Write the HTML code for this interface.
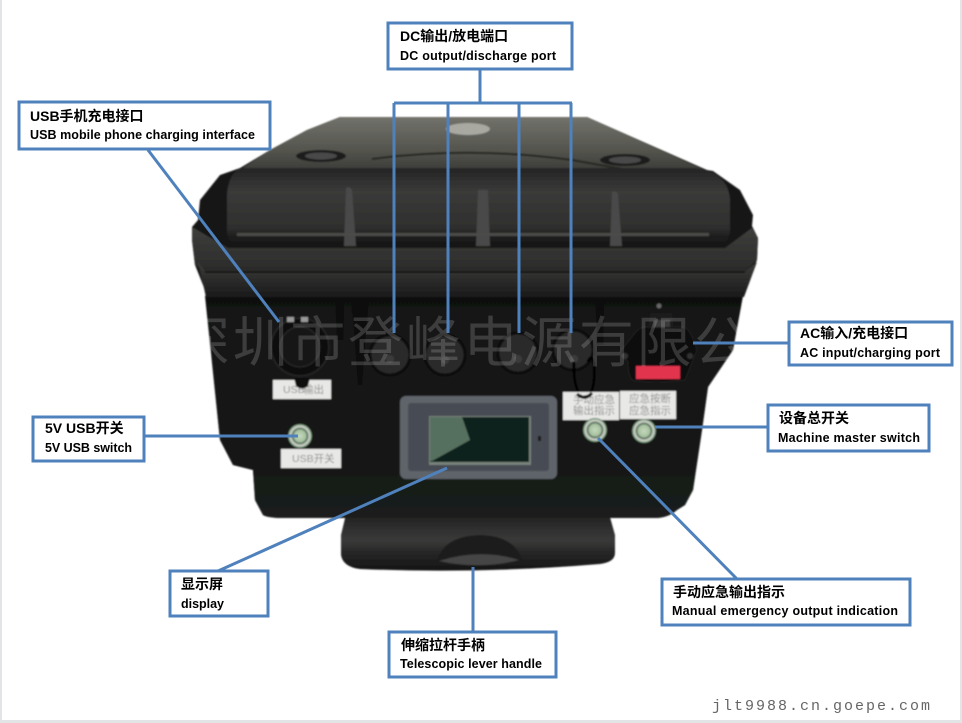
<!DOCTYPE html>
<html><head><meta charset="utf-8"><style>
html,body{margin:0;padding:0;background:#fff}
svg{display:block}
text{font-family:"Liberation Sans","Noto Sans CJK SC",sans-serif;font-weight:bold;fill:#000}
.c{font-size:14px}.e{font-size:12.5px}
.w{font-family:"Noto Sans CJK SC",sans-serif;font-weight:400;font-size:55px;fill:#fff;fill-opacity:.17}
.l{font-family:"Liberation Sans","Noto Sans CJK SC",sans-serif;font-weight:400;fill:#8f8f8f}
.b{fill:#fff;stroke:#4f81bd;stroke-width:3}
.k{stroke:#4f81bd;stroke-width:3;fill:none}
</style></head><body>
<svg width="962" height="723" viewBox="0 0 962 723" xmlns="http://www.w3.org/2000/svg">
<defs>
<filter id="soft" x="-5%" y="-5%" width="110%" height="110%"><feGaussianBlur stdDeviation="0.7"/></filter>
<linearGradient id="top" x1="0" y1="0" x2="0" y2="1"><stop offset="0" stop-color="#72726b"/><stop offset=".6" stop-color="#55554f"/><stop offset="1" stop-color="#3a3a37"/></linearGradient>
<linearGradient id="front" x1="0" y1="0" x2="0" y2="1"><stop offset="0" stop-color="#242424"/><stop offset=".3" stop-color="#3a3a39"/><stop offset=".75" stop-color="#2e2e2d"/><stop offset=".85" stop-color="#1e1e1e"/><stop offset="1" stop-color="#141414"/></linearGradient>
<linearGradient id="rim" x1="0" y1="0" x2="0" y2="1"><stop offset="0" stop-color="#3e3e3c"/><stop offset="1" stop-color="#2a2a29"/></linearGradient>
<linearGradient id="rim2" x1="0" y1="0" x2="0" y2="1"><stop offset="0" stop-color="#3c3c3a"/><stop offset="1" stop-color="#1a1a1a"/></linearGradient>
<linearGradient id="body" x1="0" y1="0" x2="0" y2="1"><stop offset="0" stop-color="#111"/><stop offset=".6" stop-color="#141514"/><stop offset="1" stop-color="#1a1d1b"/></linearGradient>
<linearGradient id="hd" x1="0" y1="0" x2="0" y2="1"><stop offset="0" stop-color="#1c1c1c"/><stop offset=".5" stop-color="#3a3a39"/><stop offset=".7" stop-color="#262626"/><stop offset="1" stop-color="#141414"/></linearGradient>
<radialGradient id="btn"><stop offset="0" stop-color="#c5d8bd"/><stop offset=".5" stop-color="#a5c09e"/><stop offset=".6" stop-color="#4f6a54"/><stop offset=".8" stop-color="#dcdcd6"/><stop offset="1" stop-color="#4f7a55"/></radialGradient>
</defs>
<rect width="962" height="723" fill="#fff"/>
<rect x="0" y="0" width="2" height="723" fill="#e3e4e6"/>
<rect x="960" y="0" width="2" height="723" fill="#e3e4e6"/>
<rect x="0" y="720" width="962" height="3" fill="#e3e4e6"/>

<g filter="url(#soft)">
<!-- handle -->
<path d="M347 510H608L615 535V553Q615 562 600 564Q480 574 360 569Q343 567 341 555V535Z" fill="url(#hd)"/>
<path d="M437 562Q443 536 480 535Q516 536 522 561Z" fill="#1c1c1c"/>
<path d="M439 561Q480 548 519 560Q480 570 439 561Z" fill="#454544"/>

<!-- silhouette -->
<path d="M340 117H587L707 170L713 171L740 190L753 215L752 226L758 238L757 260L743 292L733 350L708 387L702 430L693 490L685 505L677 510Q668 518 655 518H285Q268 518 263 515L255 500L253 470L233 465L220 440L205 290L195 265L192 240V227L198 220L200 200L220 175L240 168L270 150L307 130Z" fill="#161616"/>
<path d="M205 296H743L733 350L708 387L702 430L693 490L685 505L677 510Q668 518 655 518H285Q268 518 263 515L255 500L253 470L233 465L220 440Z" fill="url(#body)"/>
<!-- lid top -->
<path d="M340 117H587L707 171H238L270 150L307 130Z" fill="url(#top)"/>
<path d="M372 159Q470 146 572 160Q600 165 628 170" fill="none" stroke="#262624" stroke-width="2"/>
<ellipse cx="321" cy="156" rx="25" ry="6" fill="#1c1c1c"/><ellipse cx="321" cy="156" rx="16" ry="3.5" fill="#484848"/>
<ellipse cx="625" cy="160" rx="25" ry="6" fill="#1c1c1c"/><ellipse cx="625" cy="160" rx="16" ry="3.5" fill="#484848"/>
<ellipse cx="468" cy="129" rx="22" ry="6" fill="#a9a9a2"/>
<!-- lid front -->
<path d="M240 168H695Q728 172 730 200V232Q728 246 712 248H245Q228 246 227 232V195Q228 175 240 168Z" fill="url(#front)"/>
<g fill="#4a4a48">
<path d="M346 188Q350 186 352 190L356 246H344Z"/>
<path d="M612 192Q616 190 618 194L622 246H610Z"/>
<path d="M478 190L488 190L490 246H476Z"/>
</g>
<rect x="237" y="233" width="472" height="3" fill="#4c4c4a"/>
<!-- rim -->
<path d="M192 227L228 248H725L752 228L758 238L757 260L744 272H206L195 265L192 240Z" fill="url(#rim)"/>
<path d="M198 262L206 272H744L757 262L744 297H206Z" fill="url(#rim2)"/>
<path d="M205 272H745" stroke="#0f0f0f" stroke-width="1.5"/>
<path d="M352 298L358 385L362 385L368 298Z" fill="#0c0c0c"/>
<path d="M340 298V340M600 298V345" stroke="#0c0c0c" stroke-width="7"/>

<!-- USB port -->
<circle cx="300" cy="347" r="29" fill="#111" stroke="#232323" stroke-width="2"/>
<circle cx="300" cy="347" r="20" fill="#181818" stroke="#2a2a2a"/>
<rect x="287" y="317" width="7" height="5" fill="#9a9a9a"/><rect x="301" y="317" width="7" height="5" fill="#9a9a9a"/>
<!-- DC ports -->
<g fill="#2a2a2a" stroke="#0e0e0e" stroke-width="3">
<circle cx="390" cy="355" r="20"/><circle cx="445" cy="355" r="20"/><circle cx="518" cy="353" r="20"/><circle cx="573" cy="350" r="20"/>
</g>
<g fill="#3b3b3b"><circle cx="390" cy="359" r="4"/><circle cx="445" cy="360" r="4"/><circle cx="518" cy="359" r="4"/><circle cx="574" cy="359" r="4"/></g>
<path d="M574 362Q573 388 582 397Q596 398 594 366Q592 352 588 362" fill="none" stroke="#060606" stroke-width="3"/>
<!-- AC socket -->
<path d="M635 333Q640 326 648 327H683Q690 327 697 350L685 380Q660 384 634 381Q628 378 628 362L620 352Z" fill="#0c0c0c" stroke="#222"/>
<circle cx="625" cy="356" r="3" fill="#333"/><circle cx="690" cy="356" r="3" fill="#333"/>
<rect x="636" y="366" width="44" height="13" fill="#e2354d"/>
<path d="M650 313H672L674 328H648Z" fill="#1a1a1a"/><rect x="654" y="320" width="16" height="7" fill="#3a3a3a"/>
<circle cx="659" cy="306" r="2.5" fill="#666"/>

<!-- Device labels -->
<rect x="273" y="380" width="58" height="19" fill="#e8e8e6"/>
<text class="l" x="283" y="393" font-size="10.5">USB</text><text class="l" x="303" y="393" font-size="10.5">输出</text>
<path d="M294 378H310L308 386Q302 391 296 386Z" fill="#111"/>
<rect x="281" y="449" width="60" height="19" fill="#e8e8e6"/>
<text class="l" x="292" y="462" font-size="10.5">USB开关</text>
<rect x="563" y="392" width="56" height="28" fill="#e8e8e6"/>
<text class="l" x="573" y="403" font-size="10.5">手动应急</text><text class="l" x="573" y="414" font-size="10.5">输出指示</text>
<rect x="620" y="391" width="56" height="28" fill="#e8e8e6"/>
<text class="l" x="629" y="402" font-size="10.5">应急按断</text><text class="l" x="629" y="414" font-size="10.5">应急指示</text>
<path d="M577 394Q585 401 592 393" fill="none" stroke="#0a0a0a" stroke-width="3"/>
<!-- screen -->
<rect x="400" y="396" width="157" height="83" rx="6" fill="#5f646b"/>
<rect x="408" y="403" width="141" height="68" rx="3" fill="#474c52"/>
<rect x="429" y="416" width="102" height="49" fill="#76817a"/>
<rect x="430" y="417" width="99" height="45" fill="#0b211b"/>
<path d="M430 417H462L470 440L432 461H430Z" fill="#56705e"/>
<rect x="538" y="436" width="3" height="5" fill="#151515"/>
<!-- buttons -->
<circle cx="300" cy="436" r="12" fill="url(#btn)"/>
<circle cx="595" cy="430" r="12" fill="url(#btn)"/>
<circle cx="644" cy="431" r="12" fill="url(#btn)"/>
</g>

<!-- watermark -->
<text class="w" x="175" y="362" textLength="632" lengthAdjust="spacing">深圳市登峰电源有限公司</text>

<!-- connectors -->
<path class="k" d="M148 150L279 322"/>
<path class="k" d="M480 69V103M394 103H572M394 103V333M448 103V333M519 103V333M571 103V333"/>
<path class="k" d="M693 343H789"/>
<path class="k" d="M655 427H768"/>
<path class="k" d="M598 438L737 579"/>
<path class="k" d="M144 436H298"/>
<path class="k" d="M447 468L218 571"/>
<path class="k" d="M473 567V632"/>

<!-- label boxes -->
<rect class="b" x="388" y="23" width="184" height="46"/>
<text class="c" x="400" y="41">DC输出/放电端口</text>
<text class="e" x="400" y="60" textLength="156">DC output/discharge port</text>

<rect class="b" x="19" y="102" width="251" height="47"/>
<text class="c" x="30" y="121">USB手机充电接口</text>
<text class="e" x="30" y="139" textLength="225">USB mobile phone charging interface</text>

<rect class="b" x="33" y="417" width="111" height="44"/>
<text class="c" x="45" y="433">5V USB开关</text>
<text class="e" x="45" y="452" textLength="87">5V USB switch</text>

<rect class="b" x="170" y="571" width="98" height="45"/>
<text class="c" x="181" y="589">显示屏</text>
<text class="e" x="181" y="608" textLength="43">display</text>

<rect class="b" x="389" y="632" width="167" height="45"/>
<text class="c" x="401" y="650">伸缩拉杆手柄</text>
<text class="e" x="400" y="668" textLength="142">Telescopic lever handle</text>

<rect class="b" x="662" y="579" width="248" height="46"/>
<text class="c" x="673" y="597">手动应急输出指示</text>
<text class="e" x="672" y="615" textLength="226">Manual emergency output indication</text>

<rect class="b" x="768" y="405" width="161" height="46"/>
<text class="c" x="779" y="423">设备总开关</text>
<text class="e" x="778" y="442" textLength="142">Machine master switch</text>

<rect class="b" x="789" y="322" width="163" height="43"/>
<text class="c" x="800" y="338">AC输入/充电接口</text>
<text class="e" x="800" y="357" textLength="140">AC input/charging port</text>

<text x="712" y="710" style="font-family:'Liberation Mono',monospace;font-weight:400;font-size:15px;fill:#666" textLength="218">jlt9988.cn.goepe.com</text>
</svg>
</body></html>
